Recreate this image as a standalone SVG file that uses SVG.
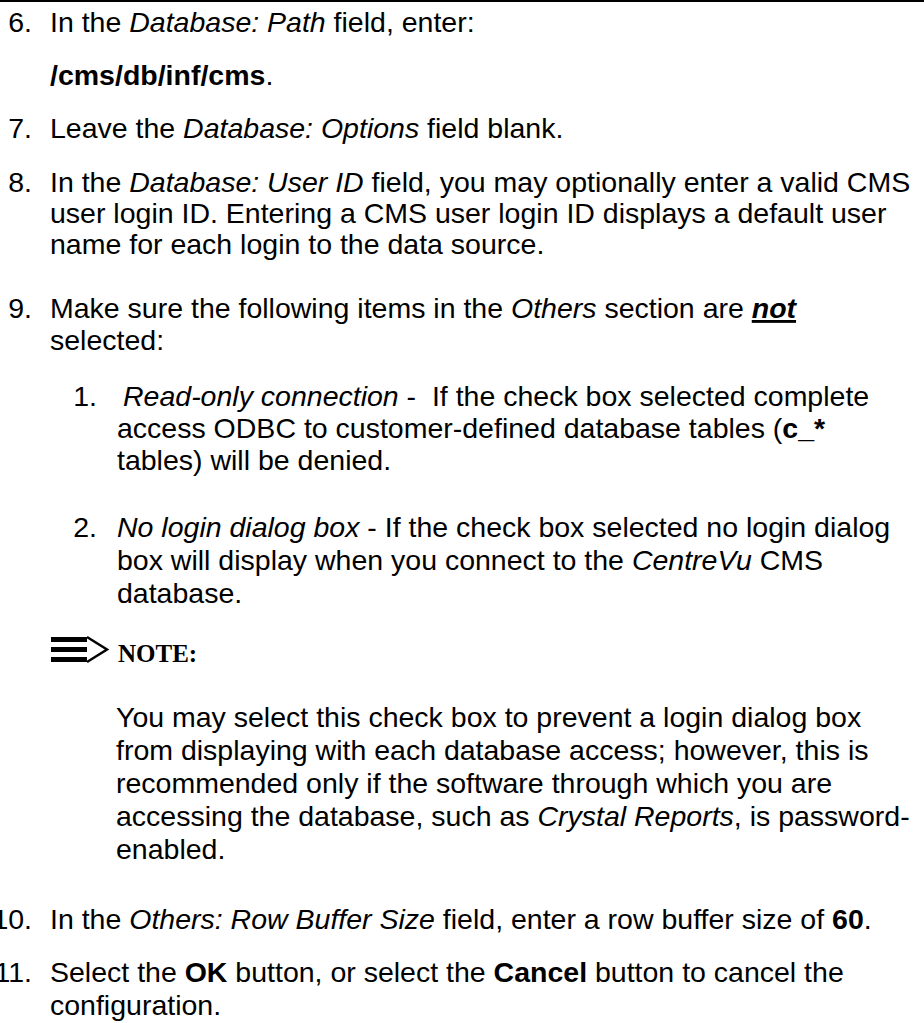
<svg xmlns="http://www.w3.org/2000/svg" width="924" height="1023" viewBox="0 0 924 1023">
<style>
text { font-family: "Liberation Sans", Arial, sans-serif; font-size: 28.5px; fill: #000; }
.i { font-style: italic; }
.b { font-weight: bold; }
.u { text-decoration: underline; }
.num { text-anchor: end; }
.note { font-family: "Liberation Serif", "Times New Roman", serif; font-weight: bold; font-size: 25px; }
</style>
<rect x="0" y="0" width="924" height="1023" fill="#fff"/>
<line x1="0" y1="1" x2="924" y2="1" stroke="#000" stroke-width="2"/>

<g id="step6">
<text class="num" x="32" y="32">6.</text>
<text x="50" y="32">In the <tspan class="i">Database: Path</tspan> field, enter:</text>
<text x="50" y="85"><tspan class="b">/cms/db/inf/cms</tspan>.</text>
</g>
<g id="step7">
<text class="num" x="32" y="138">7.</text>
<text x="50" y="138">Leave the <tspan class="i">Database: Options</tspan> field blank.</text>
</g>
<g id="step8">
<text class="num" x="32" y="192">8.</text>
<text x="50" y="192">In the <tspan class="i">Database: User ID</tspan> field, you may optionally enter a valid CMS</text>
<text x="50" y="223">user login ID. Entering a CMS user login ID displays a default user</text>
<text x="50" y="254">name for each login to the data source.</text>
</g>
<g id="step9">
<text class="num" x="32" y="318">9.</text>
<text x="50" y="318">Make sure the following items in the <tspan class="i">Others</tspan> section are <tspan class="b i u">not</tspan></text>
<text x="50" y="350">selected:</text>
</g>
<g id="sub1">
<text class="num" x="97" y="406">1.</text>
<text x="123" y="406" xml:space="preserve"><tspan class="i">Read-only connection</tspan> -  If the check box selected complete</text>
<text x="117" y="438">access ODBC to customer-defined database tables (<tspan class="b">c_*</tspan></text>
<text x="117" y="470">tables) will be denied.</text>
</g>
<g id="sub2">
<text class="num" x="97" y="537">2.</text>
<text x="117" y="537"><tspan class="i">No login dialog box</tspan> - If the check box selected no login dialog</text>
<text x="117" y="570">box will display when you connect to the <tspan class="i">CentreVu</tspan> CMS</text>
<text x="117" y="603">database.</text>
</g>
<g id="note">
<rect x="51" y="637" width="36" height="5"/>
<rect x="51" y="647" width="36" height="5"/>
<rect x="51" y="657" width="36" height="5"/>
<path d="M87,637 L107,649.5 L87,662" fill="none" stroke="#000" stroke-width="2.5"/>
<text class="note" x="118" y="662">NOTE:</text>
<text x="116" y="727">You may select this check box to prevent a login dialog box</text>
<text x="116" y="760">from displaying with each database access; however, this is</text>
<text x="116" y="793">recommended only if the software through which you are</text>
<text x="116" y="826">accessing the database, such as <tspan class="i">Crystal Reports</tspan>, is password-</text>
<text x="116" y="859">enabled.</text>
</g>
<g id="step10">
<text class="num" x="32" y="929">10.</text>
<text x="50" y="929">In the <tspan class="i">Others: Row Buffer Size</tspan> field, enter a row buffer size of <tspan class="b">60</tspan>.</text>
</g>
<g id="step11">
<text class="num" x="32" y="982">11.</text>
<text x="50" y="982">Select the <tspan class="b">OK</tspan> button, or select the <tspan class="b">Cancel</tspan> button to cancel the</text>
<text x="50" y="1015">configuration.</text>
</g>
</svg>
